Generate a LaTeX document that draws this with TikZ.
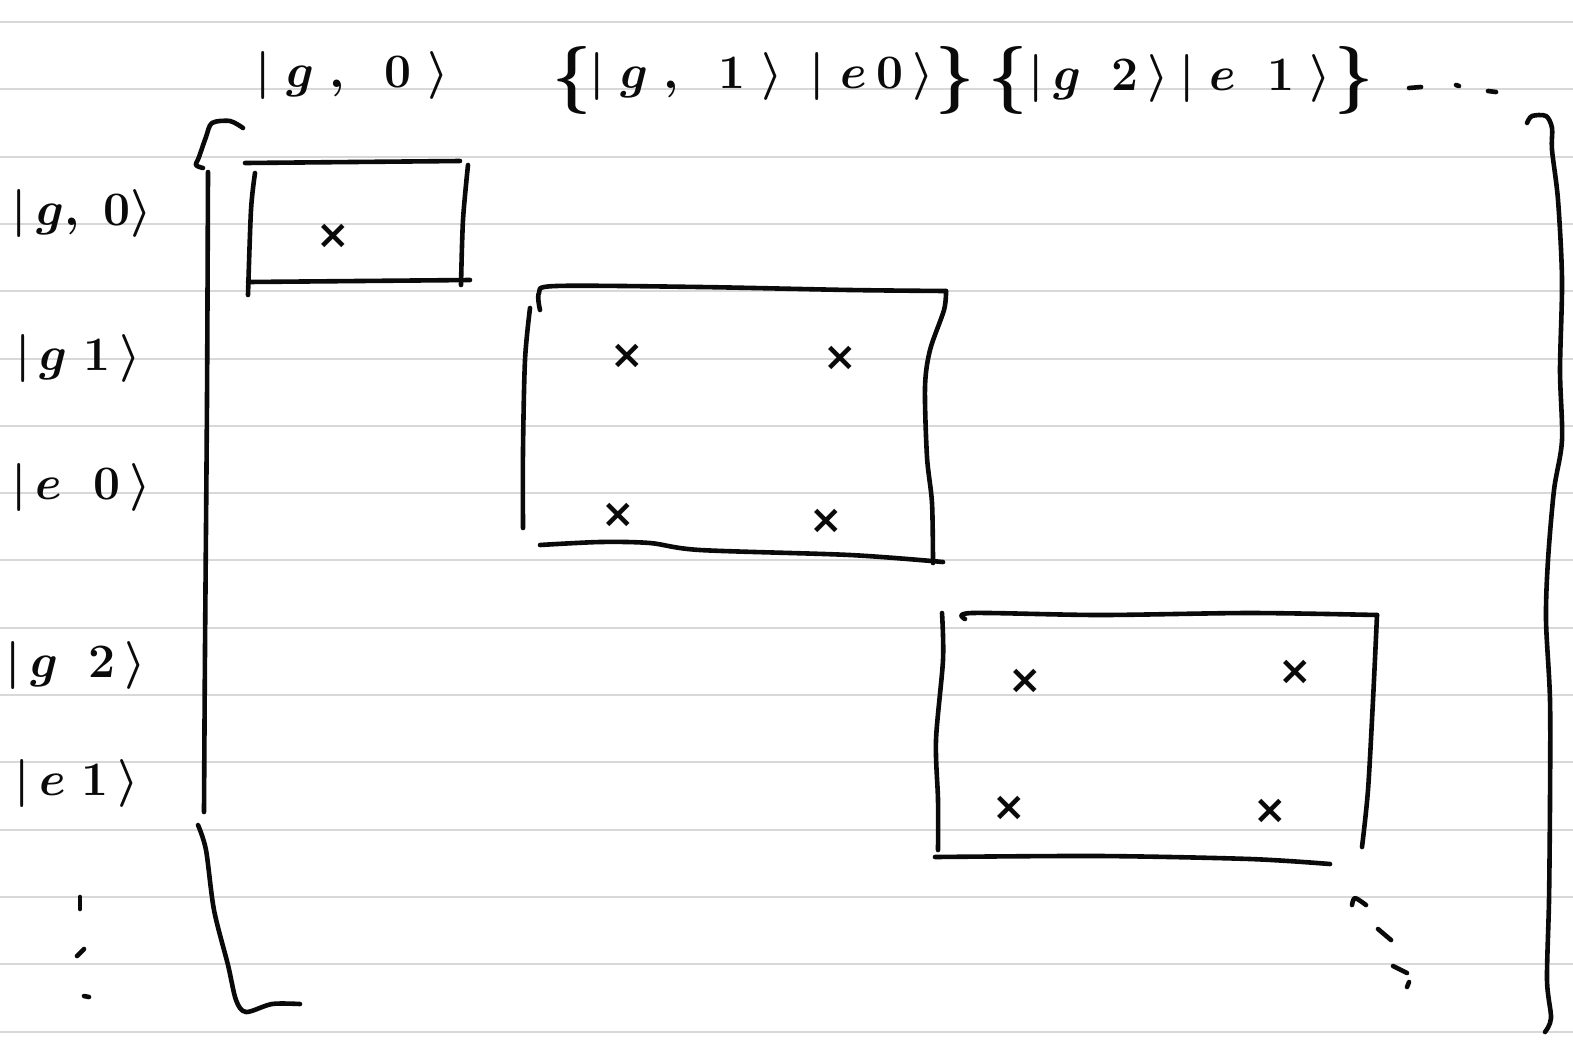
\RequirePackage{fix-cm}
\documentclass[tikz,border=0pt]{standalone}
\usepackage{xcolor}
\usepackage{fontspec}
\usepackage{tikz}
\usetikzlibrary{positioning}
\newfontfamily\crossfont{DejaVu Sans}
\definecolor{ruleGray}{HTML}{D8D8D8}
\definecolor{inkBlack}{HTML}{0A0A0A}

\begin{document}
\begin{tikzpicture}[
  x=0.5pt,
  y=-0.5pt,
  pen/.style={draw=inkBlack, line width=2.3pt, line cap=round, line join=round},
  ruling/.style={draw=ruleGray, line width=1pt},
  ket/.style={inner sep=0pt, text=inkBlack, font=\fontsize{24}{28}\selectfont\boldmath},
  bracepart/.style={inner sep=0pt, text=inkBlack, font=\fontsize{34}{38}\selectfont\boldmath},
  entry/.style={inner sep=0pt, text=inkBlack, font=\fontsize{20}{20}\selectfont\crossfont\bfseries}
]
\useasboundingbox[fill=white] (0,0) rectangle (1573,1045);
\foreach \k in {0,...,15}
  \draw[ruling] (0,22+67.3*\k) -- (1573,22+67.3*\k);

% column labels
\node[ket] (colA) at (352,75) {$|\;g\;,\;\;0\;\rangle$};
\node[bracepart] (openB) at (572,80) {$\{$};
\node[ket] (colBa) at (686,76) {$|\;g\;,\;\;1\;\rangle$};
\node[ket] (colBb) at (872,76) {$|\;e\,0\,\rangle$};
\node[bracepart] (closeB) at (955,80) {$\}$};
\node[bracepart] (openC) at (1008,80) {$\{$};
\node[ket] (colCa) at (1099,78) {$|\,g\;\;2\,\rangle$};
\node[ket] (colCb) at (1255,78) {$|\;e\;\;1\;\rangle$};
\node[bracepart] (closeC) at (1354,80) {$\}$};
\draw[pen] (1409,88) -- (1421,87);
\draw[pen] (1456,85) -- (1459,86);
\draw[pen] (1488,91) -- (1496,92);

% row labels
\node[ket] (rowA) at (82,213) {$|\,g,\;0\rangle$};
\node[ket] (rowB) at (78,358) {$|\,g\;1\,\rangle$};
\node[ket] (rowC) at (81,487) {$|\,e\;\;0\,\rangle$};
\node[ket] (rowD) at (76,665) {$|\,g\;\;2\,\rangle$};
\node[ket] (rowE) at (77,783) {$|\,e\;1\,\rangle$};
\draw[pen] (80,897) -- (80,909);
\draw[pen] (77,956) -- (84,949);
\draw[pen] (84,996) -- (89,997);

% left bracket
\draw[pen] plot[smooth] coordinates {(243,128) (230,121) (212,123) (206,137) (199,157) (196,165) (203,168)};
\draw[pen] plot[smooth] coordinates {(208,172) (207,400) (205,650) (204,812)};
\draw[pen] plot[smooth] coordinates {(198,825) (206,850) (214,910) (228,965) (236,1000) (246,1012) (272,1004) (300,1004)};

% right bracket
\draw[pen] plot[smooth] coordinates {(1527,123) (1532,116) (1546,116) (1552,128) (1552,150) (1558,200) (1562,280) (1560,370) (1562,440) (1554,490) (1548,560) (1546,620) (1550,700) (1550,800) (1549,900) (1547,980) (1551,1018) (1545,1032)};

% block 1
\draw[pen] (245,163) -- (460,161);
\draw[pen] plot[smooth] coordinates {(255,173) (251,210) (248,295)};
\draw[pen] plot[smooth] coordinates {(468,165) (463,220) (461,285)};
\draw[pen] (248,282) -- (470,280);
\node[entry] (b1a) at (333,236) {×};

% block 2
\draw[pen] plot[smooth] coordinates {(530,308) (525,360) (523,450) (523,528)};
\draw[pen] plot[smooth] coordinates {(540,310) (539,293) (556,286) (700,287) (850,290) (946,291)};
\draw[pen] plot[smooth] coordinates {(946,291) (944,310) (930,350) (925,387) (927,457) (932,503) (933,563)};
\draw[pen] plot[smooth] coordinates {(540,545) (600,542) (650,543) (700,550) (850,555) (943,562)};
\node[entry] (b2a) at (627,356) {×};
\node[entry] (b2b) at (840,358) {×};
\node[entry] (b2c) at (618,515) {×};
\node[entry] (b2d) at (826,521) {×};

% block 3
\draw[pen] plot[smooth] coordinates {(942,613) (943,660) (936,740) (938,800) (938,850)};
\draw[pen] plot[smooth] coordinates {(965,619) (972,613) (1100,615) (1250,613) (1377,615)};
\draw[pen] plot[smooth] coordinates {(1377,615) (1373,700) (1368,790) (1362,847)};
\draw[pen] plot[smooth] coordinates {(935,857) (1100,856) (1250,859) (1330,864)};
\node[entry] (b3a) at (1025,681) {×};
\node[entry] (b3b) at (1295,672) {×};
\node[entry] (b3c) at (1009,808) {×};
\node[entry] (b3d) at (1270,811) {×};

% diagonal dots
\draw[pen] plot[smooth] coordinates {(1352,905) (1355,898) (1366,905)};
\draw[pen] (1378,929) -- (1391,940);
\draw[pen] (1393,966) -- (1407,973);
\draw[pen] (1409,982) -- (1407,987);
\end{tikzpicture}
\end{document}
